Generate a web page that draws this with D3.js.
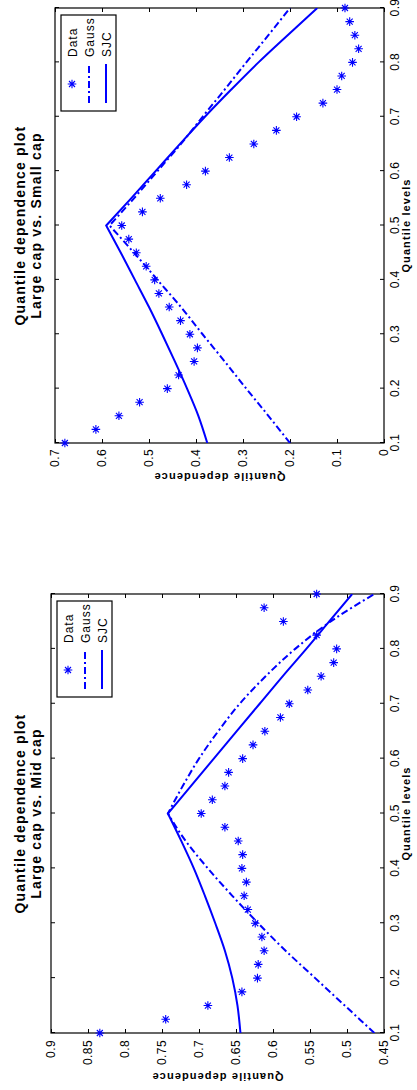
<!DOCTYPE html>
<html><head><meta charset="utf-8">
<script src="https://cdn.jsdelivr.net/npm/d3@7"></script>
<style>
body{margin:0;background:#fff}
svg{display:block}
text{font-family:"Liberation Sans",Arial,Helvetica,sans-serif;fill:#000}
</style>
</head><body>
<script>
// ---------- data ----------
const quantileLevels = [0.1,0.125,0.15,0.175,0.2,0.225,0.25,0.275,0.3,0.325,0.35,0.375,0.4,0.425,0.45,0.475,0.5,
  0.525,0.55,0.575,0.6,0.625,0.65,0.675,0.7,0.725,0.75,0.775,0.8,0.825,0.85,0.875,0.9];
const midData = [0.834,0.745,0.688,0.642,0.621,0.620,0.612,0.615,0.624,0.634,0.639,0.636,0.642,0.641,0.647,0.665,0.697,
  0.682,0.665,0.660,0.641,0.627,0.611,0.590,0.578,0.553,0.535,0.518,0.514,0.541,0.586,0.612,0.541];
const smallData = [0.679,0.613,0.564,0.520,0.461,0.437,0.404,0.397,0.413,0.433,0.457,0.479,0.488,0.506,0.527,0.543,0.558,
  0.514,0.476,0.420,0.380,0.329,0.277,0.229,0.186,0.130,0.100,0.090,0.067,0.054,0.062,0.073,0.083];

const modelLevels = [0.1,0.15,0.2,0.25,0.3,0.35,0.4,0.45,0.5,0.55,0.6,0.65,0.7,0.75,0.8,0.85,0.9];
const midGauss = [0.463,0.503,0.543,0.583,0.620,0.655,0.688,0.718,0.742,0.722,0.700,0.674,0.645,0.610,0.570,0.522,0.463];
const midSJC   = [0.644,0.648,0.655,0.665,0.678,0.692,0.707,0.724,0.742,0.711,0.680,0.649,0.618,0.587,0.555,0.524,0.493];
const smallGauss = [0.200,0.246,0.293,0.339,0.386,0.432,0.482,0.532,0.584,0.532,0.482,0.432,0.386,0.339,0.293,0.246,0.200];
const smallSJC   = [0.376,0.395,0.419,0.445,0.472,0.500,0.530,0.560,0.591,0.538,0.486,0.434,0.381,0.325,0.267,0.205,0.142];

const quantTicks = [0.1,0.2,0.3,0.4,0.5,0.6,0.7,0.8,0.9];
const quantTickLabels = ["0.1","0.2","0.3","0.4","0.5","0.6","0.7","0.8","0.9"];
const midTicks = [0.45,0.5,0.55,0.6,0.65,0.7,0.75,0.8,0.85,0.9];
const midTickLabels = ["0.45","0.5","0.55","0.6","0.65","0.7","0.75","0.8","0.85","0.9"];
const smallTicks = [0,0.1,0.2,0.3,0.4,0.5,0.6,0.7];
const smallTickLabels = ["0","0.1","0.2","0.3","0.4","0.5","0.6","0.7"];

const titleLine1 = "Quantile dependence plot";
const midTitle2 = "Large cap vs. Mid cap";
const smallTitle2 = "Large cap vs. Small cap";
const xLabel = "Quantile levels";
const yLabel = "Quantile dependence";
const legendNames = ["Data","Gauss","SJC"];

// ---------- layout ----------
const W = 417, H = 1090;
const BLUE = "#0000ff";
const svg = d3.select("body").append("svg").attr("width", W).attr("height", H);
// whole figure is rotated 90 degrees counter-clockwise
const root = svg.append("g").attr("transform", `translate(0,${H}) rotate(-90)`);

const panels = [
  {title2: midTitle2, data: midData, gauss: midGauss, sjc: midSJC, yDomain: [0.45, 0.9],
   yTicks: midTicks, yTickLabels: midTickLabels, box: {x0: 57, x1: 496, y0: 51, y1: 384},
   yLabelX: 17, yTickPad: 7, id: "m"},
  {title2: smallTitle2, data: smallData, gauss: smallGauss, sjc: smallSJC, yDomain: [0, 0.7],
   yTicks: smallTicks, yTickLabels: smallTickLabels, box: {x0: 647, x1: 1082, y0: 55, y1: 384},
   yLabelX: 617, yTickPad: 6, id: "s"}
];

const starPath = "M-4.3,0H4.3M0,-4.3V4.3M-3,-3L3,3M-3,3L3,-3";
const DASHDOT = "7,3,2,3";

panels.forEach(p => {
  const b = p.box;
  const g = root.append("g");
  const x = d3.scaleLinear().domain([0.1, 0.9]).range([b.x0, b.x1]);
  const y = d3.scaleLinear().domain(p.yDomain).range([b.y1, b.y0]);

  g.append("clipPath").attr("id", "clip" + p.id).append("rect")
    .attr("x", b.x0).attr("y", b.y0).attr("width", b.x1 - b.x0).attr("height", b.y1 - b.y0);

  const styleAxis = sel => {
    sel.select(".domain").remove();
    sel.selectAll(".tick line").attr("stroke", "#000");
    sel.selectAll("text").attr("font-size", 12).attr("fill", "#000")
      .style("font-family", '"Liberation Sans",Arial,sans-serif').style("letter-spacing", "0.4px");
  };

  g.append("g").attr("transform", `translate(0,${b.y1})`)
    .call(d3.axisBottom(x).tickValues(quantTicks).tickFormat((d, i) => quantTickLabels[i])
      .tickSizeInner(-4).tickSizeOuter(0).tickPadding(6)).call(styleAxis);
  g.append("g").attr("transform", `translate(0,${b.y0})`)
    .call(d3.axisTop(x).tickValues(quantTicks).tickFormat("")
      .tickSizeInner(-4).tickSizeOuter(0)).call(styleAxis);
  g.append("g").attr("transform", `translate(${b.x0},0)`)
    .call(d3.axisLeft(y).tickValues(p.yTicks).tickFormat((d, i) => p.yTickLabels[i])
      .tickSizeInner(-4).tickSizeOuter(0).tickPadding(p.yTickPad)).call(styleAxis);
  g.append("g").attr("transform", `translate(${b.x1},0)`)
    .call(d3.axisRight(y).tickValues(p.yTicks).tickFormat("")
      .tickSizeInner(-4).tickSizeOuter(0)).call(styleAxis);

  g.append("rect").attr("x", b.x0).attr("y", b.y0).attr("width", b.x1 - b.x0).attr("height", b.y1 - b.y0)
    .attr("fill", "none").attr("stroke", "#000").attr("stroke-width", 1.2);

  const plot = g.append("g").attr("clip-path", `url(#clip${p.id})`);
  // each model curve has a kink at q = 0.5: draw both halves smoothly and join them
  const line = d3.line().x(d => x(d[0])).y(d => y(d[1])).curve(d3.curveMonotoneX);
  const halves = vals => {
    const pts = modelLevels.map((q, i) => [q, vals[i]]);
    const k = modelLevels.indexOf(0.5);
    const left = line(pts.slice(0, k + 1));
    const right = line(pts.slice(k)).replace(/^M[^CL]*/, "");
    return left + right;
  };
  plot.append("path").attr("d", halves(p.gauss))
    .attr("fill", "none").attr("stroke", BLUE).attr("stroke-width", 2).attr("stroke-dasharray", DASHDOT);
  plot.append("path").attr("d", halves(p.sjc))
    .attr("fill", "none").attr("stroke", BLUE).attr("stroke-width", 2);

  g.append("g").selectAll("path").data(quantileLevels.map((q, i) => [q, p.data[i]])).join("path")
    .attr("transform", d => `translate(${x(d[0])},${y(d[1])})`)
    .attr("d", starPath).attr("stroke", BLUE).attr("stroke-width", 1.1).attr("fill", "none");

  // titles
  const cx = (b.x0 + b.x1) / 2;
  g.append("text").attr("x", cx).attr("y", 25).attr("text-anchor", "middle")
    .attr("font-size", 14).attr("font-weight", "bold").style("letter-spacing", "1.2px").text(titleLine1);
  g.append("text").attr("x", cx).attr("y", 41).attr("text-anchor", "middle")
    .attr("font-size", 14).attr("font-weight", "bold").style("letter-spacing", "1.2px").text(p.title2);

  // axis labels
  g.append("text").attr("x", cx).attr("y", 410).attr("text-anchor", "middle")
    .attr("font-size", 11).attr("font-weight", "bold").style("letter-spacing", "1.1px").text(xLabel);
  g.append("text").attr("transform", `translate(${p.yLabelX},${(b.y0 + b.y1) / 2}) rotate(-90)`)
    .attr("text-anchor", "middle")
    .attr("font-size", 11).attr("font-weight", "bold").style("letter-spacing", "1.1px").text(yLabel);

  // legend
  const lw = 96, lh = 55;
  const lx = b.x1 - 7 - lw, ly = b.y0 + 6;
  const lg = g.append("g").attr("transform", `translate(${lx},${ly})`);
  lg.append("rect").attr("width", lw).attr("height", lh).attr("fill", "#fff").attr("stroke", "#000").attr("stroke-width", 1.2);
  legendNames.forEach((name, i) => {
    const ry = 11 + i * 17;
    if (i === 0) {
      lg.append("path").attr("transform", `translate(${27},${ry})`).attr("d", starPath)
        .attr("stroke", BLUE).attr("stroke-width", 1.1).attr("fill", "none");
    } else {
      lg.append("line").attr("x1", 8).attr("x2", 47).attr("y1", ry).attr("y2", ry)
        .attr("stroke", BLUE).attr("stroke-width", 2)
        .attr("stroke-dasharray", i === 1 ? DASHDOT : null);
    }
    lg.append("text").attr("x", 54).attr("y", ry + 4.5).attr("font-size", 12)
      .style("letter-spacing", "1px").text(name);
  });
});
</script>
</body></html>
